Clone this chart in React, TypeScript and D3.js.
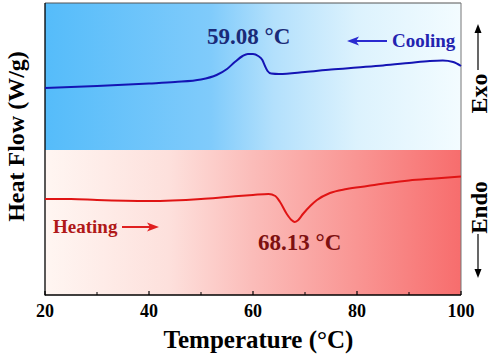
import React from "react";
import * as d3 from "d3";

const temps = [20, 30, 40, 45, 50, 53, 55, 56.5, 58, 59, 60, 61, 61.8, 62.3, 62.8, 63.5, 65, 70, 75, 80, 85, 90, 94, 96.5, 98.5, 100];
const coolingFlow = [2.07, 2.09, 2.115, 2.13, 2.155, 2.2, 2.26, 2.33, 2.39, 2.41, 2.41, 2.39, 2.35, 2.29, 2.24, 2.215, 2.21, 2.23, 2.255, 2.275, 2.295, 2.32, 2.34, 2.345, 2.33, 2.29];

const heatTemps = [20, 25, 30, 40, 50, 55, 60, 63, 64.3, 65.2, 66.5, 67.4, 68.0, 68.6, 69.6, 71, 72.3, 74.8, 78, 82, 86, 90, 95, 100];
const heatingFlow = [0.96, 0.96, 0.95, 0.94, 0.96, 0.98, 1.0, 1.01, 0.99, 0.93, 0.81, 0.75, 0.73, 0.745, 0.81, 0.89, 0.95, 1.02, 1.06, 1.09, 1.12, 1.145, 1.165, 1.185];

const majorTicks = [20, 40, 60, 80, 100];
const minorTicks = [30, 50, 70, 90];

const FONT = "'Liberation Serif', 'Times New Roman', serif";

export default function App() {
  const W = 494, H = 354;
  const left = 45, right = 461, top = 3, bottom = 295;
  const x = d3.scaleLinear().domain([20, 100]).range([left, right]);
  const y = d3.scaleLinear().domain([0, 2.92]).range([bottom, top]);
  const split = y(1.45);

  const line = d3.line<[number, number]>().x(d => x(d[0])).y(d => y(d[1])).curve(d3.curveMonotoneX);
  const coolPath = line(temps.map((t, i) => [t, coolingFlow[i]]) as [number, number][]) || "";
  const heatPath = line(heatTemps.map((t, i) => [t, heatingFlow[i]]) as [number, number][]) || "";

  return (
    <svg width={W} height={H} style={{ position: "absolute", left: 0, top: 0, background: "#fff" }} fontFamily={FONT}>
      <defs>
        <linearGradient id="blueG" x1="0" x2="1" y1="0" y2="0">
          <stop offset="0" stopColor="#55bcfa" />
          <stop offset="0.4" stopColor="#80cbfb" />
          <stop offset="0.55" stopColor="#b3e0fc" />
          <stop offset="0.75" stopColor="#dcf2fd" />
          <stop offset="1" stopColor="#f3fcff" />
        </linearGradient>
        <linearGradient id="redG" x1="0" x2="1" y1="0" y2="0">
          <stop offset="0" stopColor="#fff6f2" />
          <stop offset="0.3" stopColor="#fde0dc" />
          <stop offset="0.5" stopColor="#fbbcb9" />
          <stop offset="0.75" stopColor="#f99593" />
          <stop offset="1" stopColor="#f76d6d" />
        </linearGradient>
      </defs>
      <rect x={left} y={top} width={right - left} height={split - top} fill="url(#blueG)" />
      <rect x={left} y={split} width={right - left} height={bottom - split} fill="url(#redG)" />
      <line x1={left} x2={right} y1={top} y2={top} stroke="#555" strokeWidth={1} />
      <line x1={right} x2={right} y1={top} y2={bottom} stroke="#777" strokeWidth={1} />
      <line x1={left} x2={left} y1={top} y2={bottom + 0.5} stroke="#000" strokeWidth={1.3} />
      <line x1={left} x2={right} y1={bottom} y2={bottom} stroke="#000" strokeWidth={1.3} />
      {majorTicks.map(t => (
        <line key={"M" + t} x1={x(t)} x2={x(t)} y1={bottom} y2={bottom - 4} stroke="#000" strokeWidth={1.2} />
      ))}
      {minorTicks.map(t => (
        <line key={"m" + t} x1={x(t)} x2={x(t)} y1={bottom} y2={bottom - 3} stroke="#000" strokeWidth={1} />
      ))}
      {majorTicks.map(t => (
        <text key={"l" + t} x={x(t)} y={317} textAnchor="middle" fontSize={18} fontWeight="bold" fill="#000">{t}</text>
      ))}
      <text x={258.5} y={348} textAnchor="middle" fontSize={25} fontWeight="bold" fill="#000">Temperature (°C)</text>
      <text transform={`translate(24,136.5) rotate(-90)`} textAnchor="middle" fontSize={24} fontWeight="bold" fill="#000">Heat Flow (W/g)</text>

      <path d={coolPath} fill="none" stroke="#1414b4" strokeWidth={2} />
      <path d={heatPath} fill="none" stroke="#e01414" strokeWidth={2} />

      <text x={207} y={44} fontSize={23} fontWeight="bold" fill="#1a2a78">59.08 °C</text>
      <text x={392} y={47} fontSize={19} fontWeight="bold" fill="#2323b0">Cooling</text>
      <line x1={356} x2={387} y1={41} y2={41} stroke="#2a2ad0" strokeWidth={2} />
      <path d="M347,41 L359,36.5 L356,41 L359,45.5 Z" fill="#2a2ad0" />

      <text x={258} y={250} fontSize={23} fontWeight="bold" fill="#7e1010">68.13 °C</text>
      <text x={53} y={233} fontSize={19} fontWeight="bold" fill="#b01818">Heating</text>
      <line x1={122} x2={150} y1={227} y2={227} stroke="#e02020" strokeWidth={2} />
      <path d="M159,227 L147,222.5 L150,227 L147,231.5 Z" fill="#e02020" />

      <text transform={`translate(487,93.5) rotate(-90)`} textAnchor="middle" fontSize={24} fontWeight="bold" fill="#000">Exo</text>
      <line x1={478} x2={478} y1={70} y2={30} stroke="#000" strokeWidth={1.2} />
      <path d="M478,24 L474.5,33 L481.5,33 Z" fill="#000" />
      <text transform={`translate(487,207.5) rotate(-90)`} textAnchor="middle" fontSize={23} fontWeight="bold" fill="#000">Endo</text>
      <line x1={478} x2={478} y1={234} y2={272} stroke="#000" strokeWidth={1.2} />
      <path d="M478,278 L474.5,269 L481.5,269 Z" fill="#000" />
    </svg>
  );
}
